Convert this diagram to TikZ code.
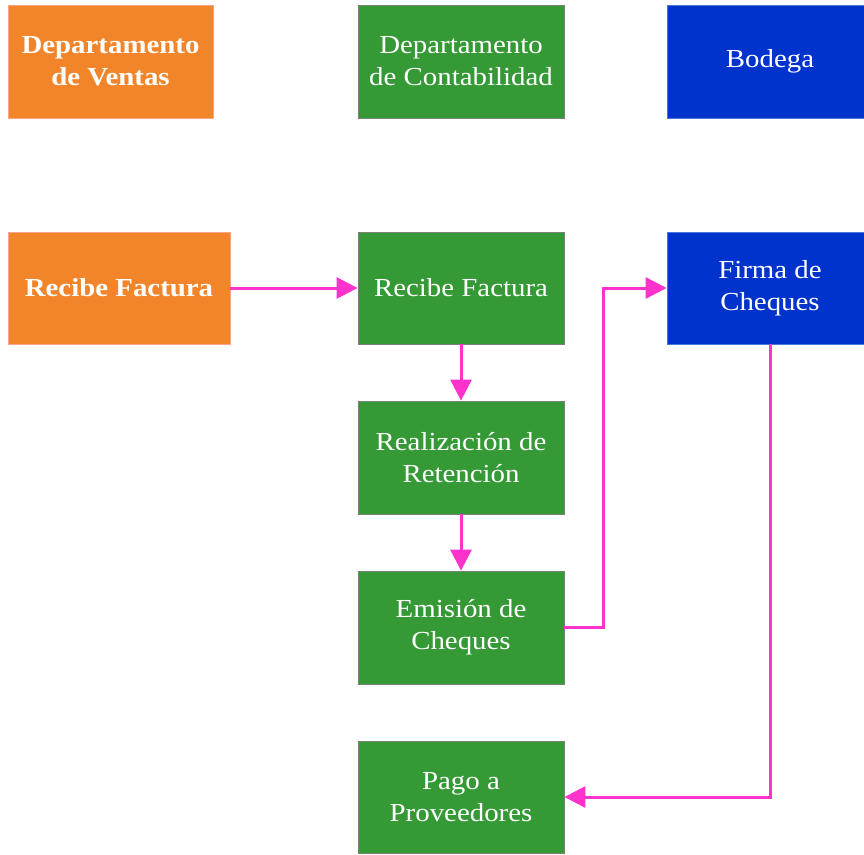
\documentclass[tikz,border=0pt]{standalone}
\usepackage{fontspec}
\setmainfont{Liberation Serif}[FakeStretch=1.11]
\usetikzlibrary{arrows.meta}
\definecolor{ventas}{RGB}{242,133,41}
\definecolor{ventasline}{RGB}{248,165,140}
\definecolor{conta}{RGB}{53,153,53}
\definecolor{contaline}{RGB}{120,130,120}
\definecolor{bodega}{RGB}{0,51,204}
\definecolor{bodegaline}{RGB}{70,120,220}
\definecolor{flow}{RGB}{255,51,204}
\tikzset{
  x=1pt, y=-1pt,
  box/.style={rectangle, minimum height=113pt, inner sep=0pt, align=center,
    text=white, font=\fontsize{26}{32}\selectfont, line width=0.8pt},
  vbox/.style={box, fill=ventas, draw=ventasline, font=\fontsize{26}{32}\selectfont\bfseries},
  cbox/.style={box, fill=conta, draw=contaline, minimum width=206pt},
  bbox/.style={box, fill=bodega, draw=bodegaline, minimum width=206pt},
  flowline/.style={draw=flow, line width=3pt, -{Triangle[length=21pt,width=21pt]}}
}
\begin{document}
\begin{tikzpicture}
\useasboundingbox (0,0) rectangle (864,854);
\clip (0,0) rectangle (864,854);
% column headers
\node[vbox, minimum width=205pt] (vh) at (110.5,61.5) {Departamento\\de Ventas};
\node[cbox] (ch) at (461,61.5) {Departamento\\de Contabilidad};
\node[bbox] (bh) at (770,61.5) {Bodega};
% process steps
\node[vbox, minimum width=222pt, minimum height=112pt] (v1) at (119,288) {Recibe Factura};
\node[cbox, minimum height=112pt] (c1) at (461,288) {Recibe Factura};
\node[cbox] (c2) at (461,457.5) {Realización de\\Retención};
\node[cbox] (c3) at (461,627.5) {Emisión de\\Cheques};
\node[cbox, minimum height=112pt] (c4) at (461,797) {Pago a\\Proveedores};
\node[bbox, minimum height=112pt] (b1) at (770,288) {Firma de\\Cheques};
% flow
\draw[flowline] (v1.east) -- (c1.west);
\draw[flowline] (c1.south) -- (c2.north);
\draw[flowline] (c2.south) -- (c3.north);
\draw[flowline] (c3.east) -- ++(39,0) |- (b1.west);
\draw[flowline] (b1.south) |- (c4.east);
\end{tikzpicture}
\end{document}
